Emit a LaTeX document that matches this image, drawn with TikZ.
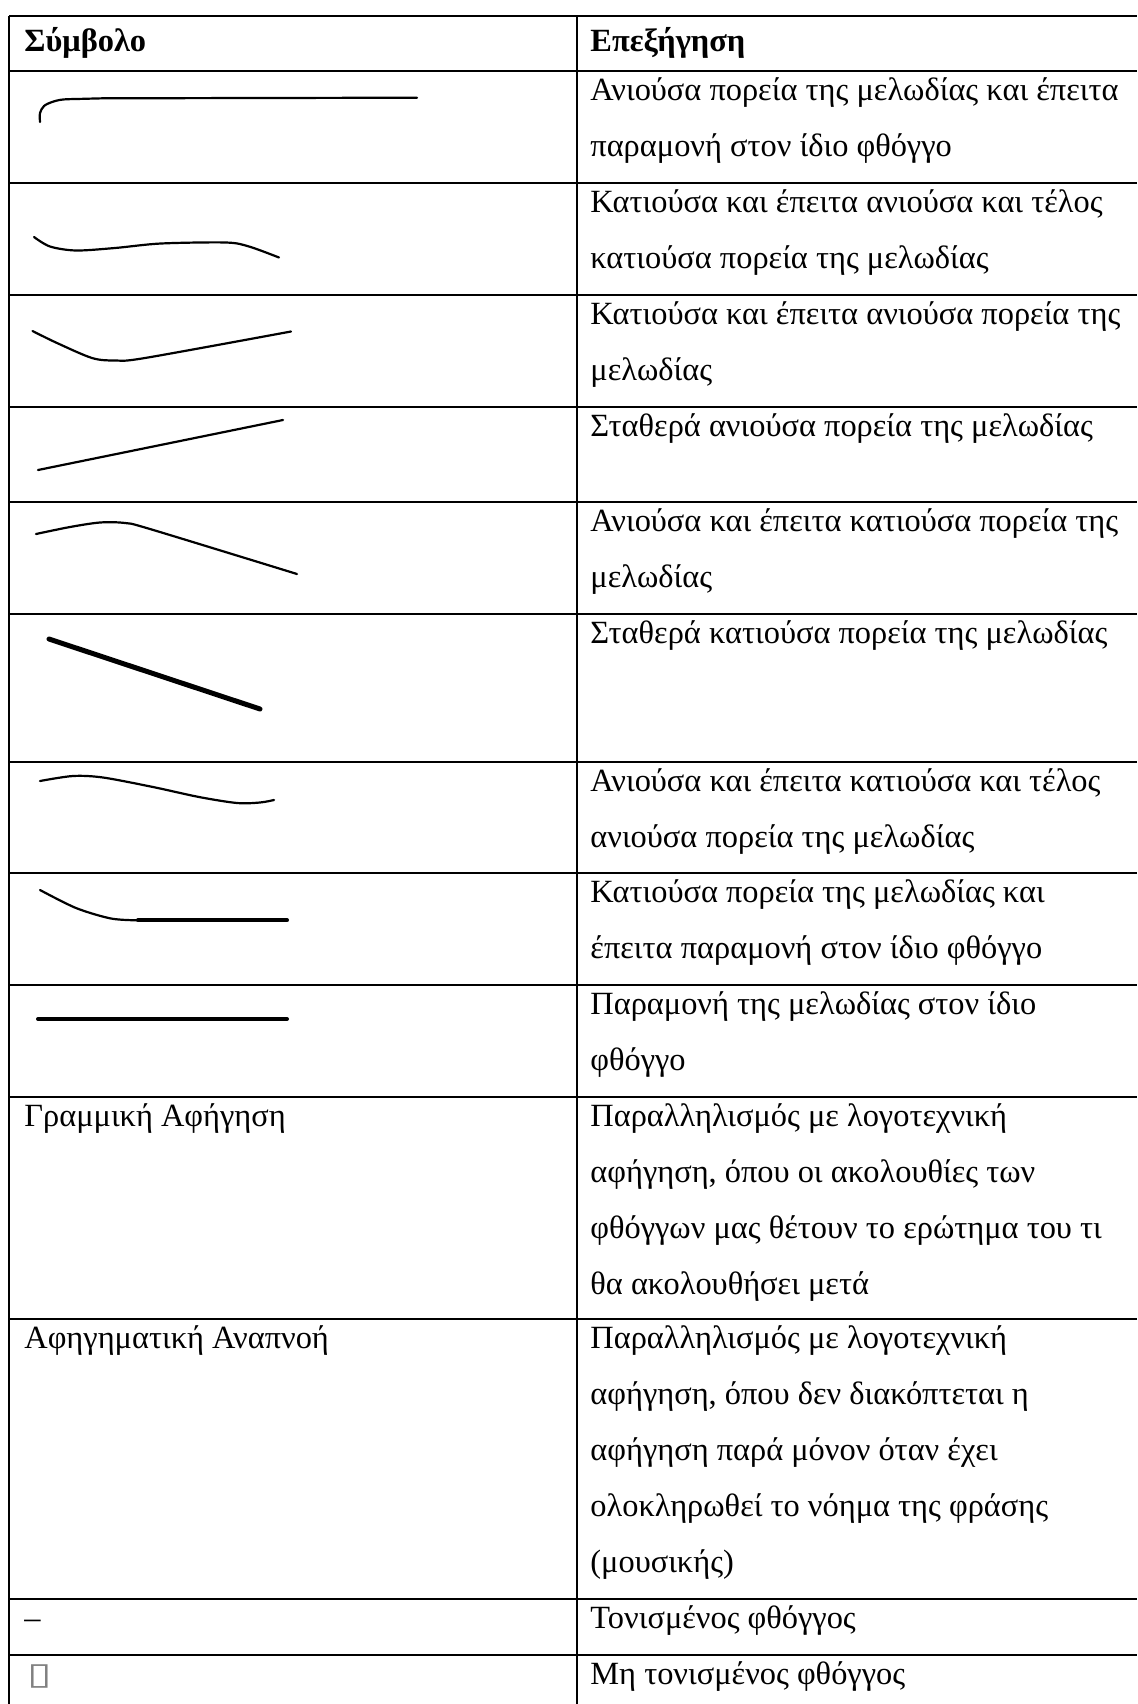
\documentclass[tikz,border=0pt]{standalone}
\usepackage{graphicx}
\usepackage{fontspec}
\setmainfont{Liberation Serif}
\newfontfamily\boxfont{DejaVu Sans}
\newcommand\cellstrut{\rule{0pt}{14.5pt}}

\begin{document}
\begin{tikzpicture}[x=0.5pt,y=-0.5pt,
  tablerule/.style={line width=0.8pt},
  celltext/.style={anchor=north west,inner sep=0pt,align=left,
    font=\fontsize{16.2}{28}\selectfont},
  headtext/.style={celltext,font=\fontsize{16.2}{28}\selectfont\bfseries},
  contour/.style={line width=1.1pt,line cap=round,line join=round}]
  \fill[white] (0,0) rectangle (1137,1704);
  \useasboundingbox (0,0) rectangle (1137,1704);

  % table rules
  \foreach \y in {16,71,183,295,407,502,614,762,873,985,1097,1319,1599,1655}
    \draw[tablerule] (9,\y) -- (1137,\y);
  \foreach \x in {9,577}
    \draw[tablerule] (\x,16) -- (\x,1704);

  % header
  \node[headtext] (symhead) at (24,22) {\cellstrut Σύμβολο};
  \node[headtext] (exphead) at (590,22) {\cellstrut Επεξήγηση};

  % melodic contour signs
  \draw[contour] plot[smooth,tension=0.5] coordinates {(40,122) (40,113) (44,106) (52,102) (63,99.5) (84,98.8) (103,98.3)} -- (417,97.7);
  \draw[contour] plot[smooth] coordinates {(34,237) (50,246.5) (76,250.5) (115,248) (161,243.5) (226,242.5) (249,246.5) (279,257.5)};
  \draw[contour] plot[smooth] coordinates {(32.5,331) (57,343) (92,358) (115,360.5) (145,358) (291,331.5)};
  \draw[contour] (38,470) -- (283,420);
  \draw[contour] plot[smooth] coordinates {(36,534) (70,527) (100,522.5) (125,523) (150,529) (297,574)};
  \draw[contour,line width=2.5pt] (49,639) -- (260,709);
  \draw[contour] plot[smooth] coordinates {(40,781) (73,776) (103,777.5) (153,787) (199,797) (237,803) (260,802.5) (274,800)};
  \draw[contour] plot[smooth] coordinates {(40,890) (76,908) (111,918.5) (138,920.3)};
  \draw[contour,line width=2pt] (138,920.3) -- (287,920.3);
  \draw[contour,line width=2pt] (38,1019) -- (287,1019);

  % left column texts
  \node[celltext] (lin) at (24,1097) {\cellstrut Γραμμική Αφήγηση};
  \node[celltext] (breath) at (24,1319) {\cellstrut Αφηγηματική Αναπνοή};
  \node[celltext] (accent) at (24,1599) {\cellstrut –};
  \node[celltext,text=gray,font=\fontsize{15.4}{28}\boxfont] (noaccent) at (27,1655) {\cellstrut\scalebox{1.45}[1]{▯}};

  % explanations
  \node[celltext] (exp1) at (590,71) {\cellstrut Ανιούσα πορεία της μελωδίας και έπειτα\\παραμονή στον ίδιο φθόγγο};
  \node[celltext] (exp2) at (590,183) {\cellstrut Κατιούσα και έπειτα ανιούσα και τέλος\\κατιούσα πορεία της μελωδίας};
  \node[celltext] (exp3) at (590,295) {\cellstrut Κατιούσα και έπειτα ανιούσα πορεία της\\μελωδίας};
  \node[celltext] (exp4) at (590,407) {\cellstrut Σταθερά ανιούσα πορεία της μελωδίας};
  \node[celltext] (exp5) at (590,502) {\cellstrut Ανιούσα και έπειτα κατιούσα πορεία της\\μελωδίας};
  \node[celltext] (exp6) at (590,614) {\cellstrut Σταθερά κατιούσα πορεία της μελωδίας};
  \node[celltext] (exp7) at (590,762) {\cellstrut Ανιούσα και έπειτα κατιούσα και τέλος\\ανιούσα πορεία της μελωδίας};
  \node[celltext] (exp8) at (590,873) {\cellstrut Κατιούσα πορεία της μελωδίας και\\έπειτα παραμονή στον ίδιο φθόγγο};
  \node[celltext] (exp9) at (590,985) {\cellstrut Παραμονή της μελωδίας στον ίδιο\\φθόγγο};
  \node[celltext] (exp10) at (590,1097) {\cellstrut Παραλληλισμός με λογοτεχνική\\αφήγηση, όπου οι ακολουθίες των\\φθόγγων μας θέτουν το ερώτημα του τι\\θα ακολουθήσει μετά};
  \node[celltext] (exp11) at (590,1319) {\cellstrut Παραλληλισμός με λογοτεχνική\\αφήγηση, όπου δεν διακόπτεται η\\αφήγηση παρά μόνον όταν έχει\\ολοκληρωθεί το νόημα της φράσης\\(μουσικής)};
  \node[celltext] (exp12) at (590,1599) {\cellstrut Τονισμένος φθόγγος};
  \node[celltext] (exp13) at (590,1655) {\cellstrut Μη τονισμένος φθόγγος};
\end{tikzpicture}
\end{document}
